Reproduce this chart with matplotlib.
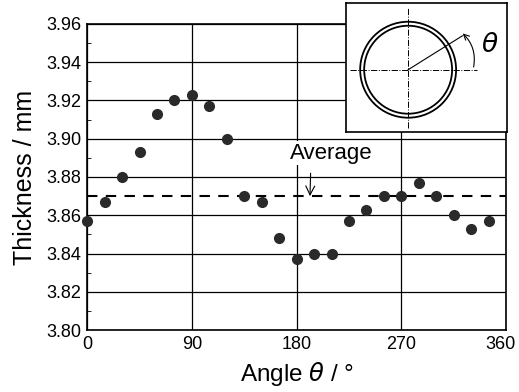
import matplotlib
matplotlib.use("Agg")
import matplotlib.pyplot as plt
import matplotlib.transforms as mtransforms
import numpy as np
from matplotlib.patches import Circle, FancyArrowPatch

plt.rcParams['font.family'] = ['Liberation Sans', 'DejaVu Sans']

# data
angles = [0, 15, 30, 45, 60, 75, 90, 105, 120, 135, 150, 165,
          180, 195, 210, 225, 240, 255, 270, 285, 300, 315, 330, 345]
thickness = [3.857, 3.867, 3.880, 3.893, 3.913, 3.920, 3.923, 3.917, 3.900, 3.870, 3.867, 3.848,
             3.837, 3.840, 3.840, 3.857, 3.863, 3.870, 3.870, 3.877, 3.870, 3.860, 3.853, 3.857]
average = 3.870
xticks = [0, 90, 180, 270, 360]
yticks = [3.80, 3.82, 3.84, 3.86, 3.88, 3.90, 3.92, 3.94, 3.96]

fig = plt.figure(figsize=(5.19, 3.92), dpi=100)
ax = fig.add_axes([0.168, 0.158, 0.807, 0.781])

ax.plot(angles, thickness, 'o', color='#2a2a2a', markersize=7, zorder=3, clip_on=False)
ax.axhline(average, color='black', linestyle=(0, (5, 4)), linewidth=1.5, zorder=2)

ax.set_xlim(0, 360)
ax.set_ylim(3.80, 3.96)
ax.set_xticks(xticks)
ax.set_yticks(yticks)
ax.set_yticklabels([f'{v:.2f}' for v in yticks])
ax.set_yticks(np.arange(3.81, 3.96, 0.02), minor=True)
ax.tick_params(axis='both', which='major', labelsize=13, direction='in', length=0, pad=4)
ax.tick_params(axis='y', which='minor', direction='in', length=3)
ax.grid(True, which='major', color='black', linewidth=0.9)
for s in ax.spines.values():
    s.set_linewidth(1.2)
# nudge the last tick label so it stays inside the figure
shift = mtransforms.ScaledTranslation(-6 / 100, 0, fig.dpi_scale_trans)
last = ax.get_xticklabels()[-1]
last.set_transform(last.get_transform() + shift)

ax.set_xlabel(r'Angle $\theta$ / °', fontsize=17.5, labelpad=5)
ax.set_ylabel('Thickness / mm', fontsize=18, labelpad=7)

ax.annotate('Average', xy=(191.5, average), xytext=(210, 3.8925),
            fontsize=16, ha='center', va='center',
            bbox=dict(facecolor='white', edgecolor='none', pad=1),
            arrowprops=dict(arrowstyle='->', color='black', lw=0.8,
                            shrinkA=6, shrinkB=0,
                            relpos=(0.25, 0)))

# inset sketch of the pipe cross-section
ins = fig.add_axes([0.667, 0.664, 0.310, 0.329])
ins.set_xlim(0, 161)
ins.set_ylim(0, 129)
ins.set_xticks([])
ins.set_yticks([])
for s in ins.spines.values():
    s.set_linewidth(1.2)
cx, cy = 62, 62
ins.add_patch(Circle((cx, cy), 48, fill=False, lw=1.3, color='black'))
ins.add_patch(Circle((cx, cy), 44, fill=False, lw=1.3, color='black'))
ins.plot([4, 131], [cy, cy], color='black', lw=0.7, linestyle='-.')
ins.plot([cx, cx], [4, 125], color='black', lw=0.7, linestyle='-.')
ang = np.deg2rad(32)
ins.plot([cx, cx + 64 * np.cos(ang)], [cy, cy + 64 * np.sin(ang)], color='black', lw=0.8)
ins.add_patch(FancyArrowPatch((cx + 65, cy), (cx + 65 * np.cos(np.deg2rad(36)), cy + 65 * np.sin(np.deg2rad(36))),
                              connectionstyle='arc3,rad=0.3', arrowstyle='->', mutation_scale=10,
                              color='black', lw=0.8))
ins.text(144, 87, r'$\theta$', fontsize=19, ha='center', va='center')

fig.savefig('out.png', dpi=100)
